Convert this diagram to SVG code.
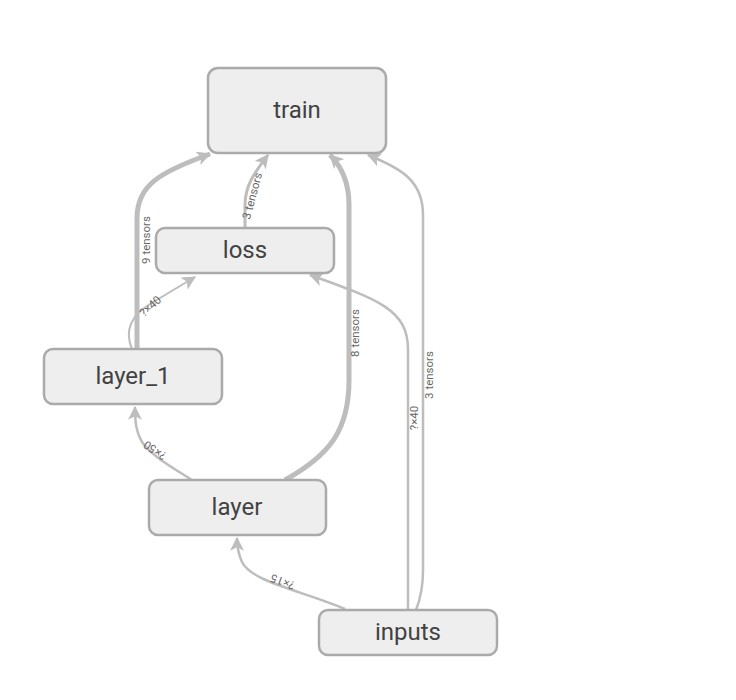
<svg xmlns="http://www.w3.org/2000/svg" width="736" height="700" viewBox="0 0 736 700">
<style>
.node rect{fill:#eeeeee;stroke:#aaaaaa;stroke-width:2.5}
.node text{font-family:Roboto,"Liberation Sans",sans-serif;font-size:24px;fill:#424242;text-anchor:middle;dominant-baseline:central}
.e{fill:none;stroke:#bdbdbd}
.lbl{font-family:Roboto,"Liberation Sans",sans-serif;font-size:11.5px;fill:#666;text-anchor:middle}
</style>
<defs>
<marker id="ah" viewBox="0 0 12 12" refX="11" refY="6" markerWidth="14" markerHeight="14" markerUnits="userSpaceOnUse" orient="auto">
<path d="M0,0 L12,6 L0,12 L3,6 Z" fill="#bdbdbd"/>
</marker>
</defs>
<rect width="736" height="700" fill="#fff"/>
<g id="connectors">
<path class="e" stroke-width="5" marker-end="url(#ah)" d="M137,349 L137,218 C137,185 160,172 210,154"/>
<text class="lbl" transform="translate(150,240) rotate(-90)">9 tensors</text>
<path class="e" stroke-width="2" marker-end="url(#ah)" d="M132,349 C124,330 132,315 150,304 L195,277"/>
<text class="lbl" transform="translate(153,309) rotate(-42)">?×40</text>
<path class="e" stroke-width="3" marker-end="url(#ah)" d="M245,228 L245,205 C245,185 255,172 268,155"/>
<text class="lbl" transform="translate(256,197) rotate(-75)">3 tensors</text>
<path class="e" stroke-width="2.5" marker-end="url(#ah)" d="M192,480 C170,466 152,456 142,442 C136,432 135,422 135,407"/>
<text class="lbl" transform="translate(157,447) rotate(213)">?×50</text>
<path class="e" stroke-width="5" marker-end="url(#ah)" d="M285,480 C330,455 349,430 349,380 L349,205 C349,180 340,165 330,155"/>
<text class="lbl" transform="translate(359,333) rotate(-90)">8 tensors</text>
<path class="e" stroke-width="2.5" marker-end="url(#ah)" d="M345,609 C300,590 252,582 242,562 C238,553 237,548 237,538"/>
<text class="lbl" transform="translate(284,578) rotate(200)">?×15</text>
<path class="e" stroke-width="2.5" marker-end="url(#ah)" d="M408,610 L408,350 C408,310 380,300 310,275"/>
<text class="lbl" transform="translate(418,418) rotate(-90)">?×40</text>
<path class="e" stroke-width="2.5" marker-end="url(#ah)" d="M416,610 C420,600 423,590 423,570 L423,215 C423,180 400,168 368,155"/>
<text class="lbl" transform="translate(433,375) rotate(-90)">3 tensors</text>
</g>
<g id="train" class="node"><rect x="208" y="68" width="178" height="85" rx="10"/><text x="297" y="110">train</text></g>
<g id="loss" class="node"><rect x="156" y="228" width="178" height="45" rx="9"/><text x="245" y="250">loss</text></g>
<g id="layer_1" class="node"><rect x="44" y="349" width="178" height="55" rx="9"/><text x="133" y="376">layer_1</text></g>
<g id="layer" class="node"><rect x="149" y="480" width="177" height="55" rx="9"/><text x="237" y="507">layer</text></g>
<g id="inputs" class="node"><rect x="319" y="610" width="178" height="45" rx="9"/><text x="408" y="632">inputs</text></g>
</svg>
